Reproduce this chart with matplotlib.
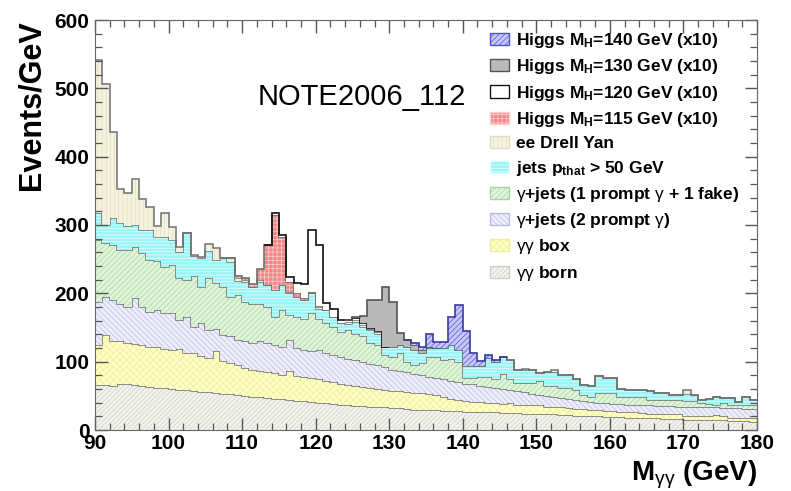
import numpy as np
import matplotlib
matplotlib.use("Agg")
import matplotlib.pyplot as plt
from matplotlib.patches import Patch
from matplotlib.ticker import MultipleLocator

plt.rcParams['font.family'] = ['Liberation Sans', 'DejaVu Sans']
plt.rcParams['mathtext.fontset'] = 'custom'
plt.rcParams['mathtext.rm'] = 'Liberation Sans'
plt.rcParams['mathtext.it'] = 'Liberation Sans'
plt.rcParams['mathtext.bf'] = 'Liberation Sans:bold'
plt.rcParams['hatch.linewidth'] = 0.5

# 1 GeV bins from 90 to 180 GeV
mass_edges = np.arange(90, 181)

# background components, Events/GeV per bin (stacking order bottom -> top)
gg_born = [66, 66, 65, 67, 68, 66, 64, 63, 62, 61,
           60, 59, 58, 57, 56, 55, 54, 53, 52, 51,
           50, 49, 48, 47, 46, 45, 44, 43, 42, 41,
           40, 39, 38, 37, 36, 35, 35, 34, 33, 33,
           32, 32, 31, 30, 30, 29, 29, 28, 28, 28,
           27, 27, 27, 26, 26, 25, 25, 25, 24, 24,
           24, 23, 23, 22, 22, 21, 21, 20, 20, 19,
           19, 19, 18, 18, 17, 17, 17, 16, 16, 16,
           15, 15, 15, 14, 14, 14, 13, 13, 13, 12]

gg_box = [59, 73, 65, 63, 60, 60, 60, 59, 59, 58,
          57, 59, 55, 55, 52, 50, 61, 48, 46, 44,
          41, 39, 39, 38, 38, 36, 42, 36, 35, 35,
          34, 33, 32, 31, 30, 29, 28, 27, 27, 26,
          25, 25, 24, 24, 24, 23, 22, 20, 18, 16,
          15, 14, 14, 13, 13, 13, 14, 12, 12, 12,
          12, 11, 11, 11, 10, 10, 10, 9, 10, 9,
          9, 8, 8, 8, 8, 7, 7, 7, 7, 7,
          6, 6, 6, 6, 8, 6, 5, 5, 5, 5]

gjets_2prompt = [63, 56, 60, 55, 52, 67, 56, 51, 55, 52,
                 54, 43, 53, 39, 48, 41, 33, 38, 39, 37,
                 39, 40, 43, 42, 41, 41, 46, 41, 40, 39,
                 43, 40, 40, 39, 38, 39, 37, 36, 35, 33,
                 31, 30, 30, 28, 26, 26, 25, 26, 26, 26,
                 26, 26, 24, 24, 23, 22, 19, 20, 19, 17,
                 15, 16, 15, 14, 14, 13, 12, 12, 10, 11,
                 10, 11, 11, 11, 11, 12, 11, 12, 12, 11,
                 13, 13, 12, 13, 11, 12, 14, 14, 13, 14]

gjets_1fake = [90, 78, 81, 79, 84, 75, 79, 76, 71, 68,
               71, 61, 54, 74, 54, 76, 67, 71, 58, 65,
               58, 57, 55, 53, 41, 54, 36, 46, 46, 56,
               46, 44, 41, 37, 42, 38, 37, 30, 30, 18,
               19, 25, 15, 13, 18, 29, 31, 28, 32, 30,
               8, 9, 13, 15, 12, 22, 16, 12, 14, 16,
               21, 15, 16, 14, 15, 15, 8, 8, 14, 15,
               16, 11, 12, 12, 13, 8, 9, 9, 9, 10,
               8, 8, 7, 5, 4, 7, 4, 4, 6, 6]

jets = [39, 27, 39, 39, 34, 32, 34, 44, 36, 43,
        36, 39, 68, 29, 41, 40, 34, 41, 51, 21,
        29, 25, 32, 32, 39, 36, 32, 29, 27, 29,
        14, 20, 15, 12, 9, 17, 14, 19, 16, 12,
        15, 12, 22, 22, 14, 13, 13, 18, 21, 17,
        17, 17, 15, 28, 26, 25, 28, 19, 19, 19,
        12, 20, 20, 20, 20, 15, 15, 15, 25, 22,
        22, 11, 10, 10, 9, 13, 10, 10, 7, 7,
        11, 9, 4, 8, 12, 8, 11, 5, 12, 7]

drell_yan = [224, 207, 126, 49, 49, 67, 45, 33, 16, 36,
             19, 7, 0, 2, 2, 10, 18, 0, 5, 4,
             2, 0, 3, 0, 0, 0, 2, 0, 0, 0,
             3, 0, 0, 0, 3, 3, 3, 2, 2, 0,
             0, 0, 0, 0, 0, 0, 0, 0, 0, 0,
             0, 0, 0, 0, 0, 0, 0, 0, 2, 0,
             0, 0, 3, 0, 0, 0, 0, 0, 0, 0,
             0, 0, 0, 0, 0, 0, 0, 0, 0, 0,
             5, 0, 0, 0, 0, 0, 0, 0, 0, 0]

# Higgs signals (x10): first bin (GeV) and bin contents
higgs115_start, higgs115 = 109, [3, 4, 4, 15, 59, 110, 71, 15, 6, 3, 2, 1]
higgs120_start, higgs120 = 114, [2, 3, 7, 14, 20, 91, 90, 10, 11, 5, 3, 3, 3, 2, 2]
higgs130_start, higgs130 = 125, [2, 10, 40, 45, 88, 66, 18, 10, 8, 5, 2]
higgs140_start, higgs140 = 133, [2, 5, 19, 9, 9, 41, 66, 52, 20, 8, 4, 2]


def spread(start, vals):
    full = np.zeros(len(mass_edges) - 1)
    i = start - mass_edges[0]
    full[i:i + len(vals)] = vals
    return full


# (values, face, hatch, hatch colour, outline, label, is_signal)
layers = [
    (np.array(gg_born, float), '#f3f3ee', '///////', '#cfcfc6', '#707070', r'$\gamma\gamma$ born', False),
    (np.array(gg_box, float), '#ffffc6', 'xxxxx', '#eeee9a', '#707070', r'$\gamma\gamma$ box', False),
    (np.array(gjets_2prompt, float), '#eeeefa', '\\\\\\\\\\\\', '#babae8', '#707070',
     r'$\gamma$+jets (2 prompt $\gamma$)', False),
    (np.array(gjets_1fake, float), '#e0f4da', '//////', '#a6d6a0', '#707070',
     r'$\gamma$+jets (1 prompt $\gamma$ + 1 fake)', False),
    (np.array(jets, float), '#9cf5f5', '-----', '#e8ffff', '#707070',
     r'jets p$_{\mathbf{that}}$ > 50 GeV', False),
    (np.array(drell_yan, float), '#f5f3de', '||||', '#e0dcc4', '#707070', 'ee Drell Yan', False),
    (spread(higgs115_start, higgs115), '#f08686', '++++', '#ffd0d0', '#707070',
     r'Higgs M$_{\mathbf{H}}$=115 GeV (x10)', True),
    (spread(higgs120_start, higgs120), '#ffffff', None, '#000000', '#111111',
     r'Higgs M$_{\mathbf{H}}$=120 GeV (x10)', True),
    (spread(higgs130_start, higgs130), '#b9b9b9', None, '#9a9a9a', '#555555',
     r'Higgs M$_{\mathbf{H}}$=130 GeV (x10)', True),
    (spread(higgs140_start, higgs140), '#c8c8f6', '//////', '#5050e0', '#3a3aa0',
     r'Higgs M$_{\mathbf{H}}$=140 GeV (x10)', True),
]

fig = plt.figure(figsize=(7.91, 4.91), dpi=100)
ax = fig.add_axes([95 / 791, 61 / 491, 662 / 791, 410 / 491])

bottom = np.zeros(len(mass_edges) - 1)
for vals, face, hatch, hcol, line, label, signal in layers:
    top = bottom + vals
    ax.stairs(top, mass_edges, baseline=bottom, fill=True, facecolor=face,
              edgecolor=hcol, hatch=hatch, linewidth=0)
    if signal:
        nz = np.nonzero(vals)[0]
        a, b = max(nz[0] - 1, 0), min(nz[-1] + 2, len(vals))
        ax.stairs(top[a:b], mass_edges[a:b + 1], baseline=None, color=line, lw=1.2)
    else:
        ax.stairs(top, mass_edges, baseline=None, color=line, lw=1.1)
    bottom = top

ax.set_xlim(90, 180)
ax.set_ylim(0, 600)
ax.xaxis.set_major_locator(MultipleLocator(10))
ax.xaxis.set_minor_locator(MultipleLocator(2))
ax.yaxis.set_major_locator(MultipleLocator(100))
ax.yaxis.set_minor_locator(MultipleLocator(20))
ax.tick_params(which='both', direction='in', top=True, right=True, color='#555555')
ax.tick_params(which='major', length=9, width=1)
ax.tick_params(which='minor', length=5, width=0.9)
ax.tick_params(axis='x', pad=3)
ax.tick_params(axis='y', pad=4)
for lab in ax.get_xticklabels() + ax.get_yticklabels():
    lab.set_fontsize(15)
    lab.set_fontweight('bold')
for sp in ax.spines.values():
    sp.set_color('#666666')

ax.set_ylabel('Events/GeV', fontsize=22, fontweight='bold', loc='top', labelpad=6)
ax.set_xlabel(r'M$_{\gamma\gamma}$ (GeV)', fontsize=20, fontweight='bold', loc='right', labelpad=4)

handles = [Patch(facecolor=face, edgecolor=hcol if hatch else line, hatch=hatch, label=label)
           for vals, face, hatch, hcol, line, label, signal in layers[::-1]]
ax.legend(handles=handles, loc='upper left', bbox_to_anchor=(490 / 791, 1 - 31 / 491),
          bbox_transform=fig.transFigure, frameon=False, prop={'weight': 'bold', 'size': 12.5},
          handlelength=1.1, handleheight=0.7, handletextpad=0.4, labelspacing=0.42,
          borderaxespad=0, borderpad=0)

fig.text(362 / 791, 1 - 97 / 491, 'NOTE2006_112', fontsize=21, ha='center', va='center')

fig.savefig('out.png', dpi=100)
